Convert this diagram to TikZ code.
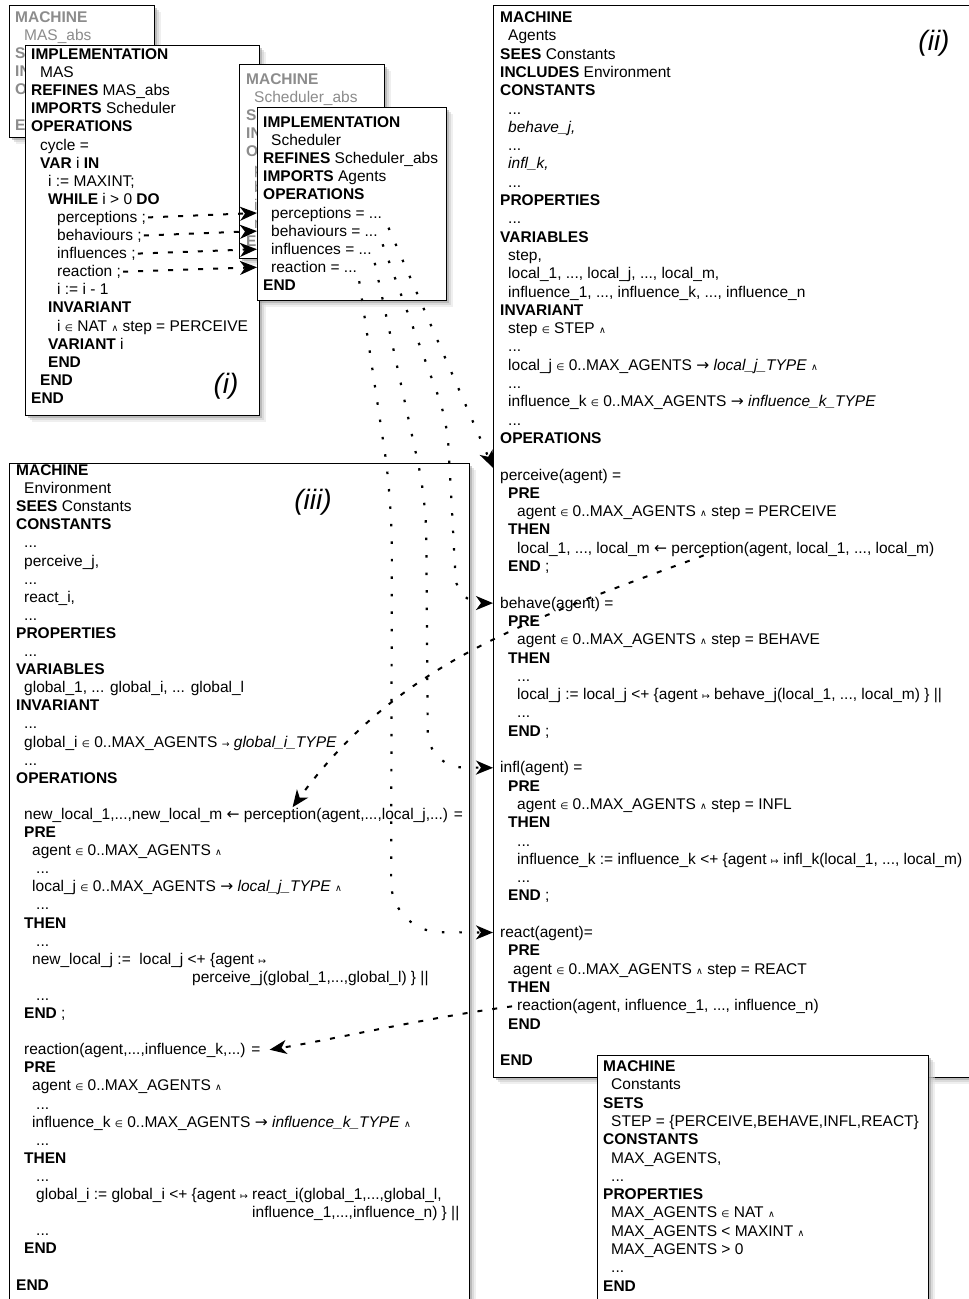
\documentclass[tikz,border=0pt]{standalone}
\usepackage{fontspec}
\setmainfont{Liberation Sans}
\newfontfamily\symfont{DejaVu Sans}[Scale=0.6]
\newfontfamily\arrowfont{DejaVu Sans}[Scale=1.0]
\usepackage{tikz}
\usetikzlibrary{arrows.meta, calc, shadows}
\newcommand{\bIn}{{\symfont ∈}}
\newcommand{\bAnd}{{\symfont ∧}}
\newcommand{\bMaps}{{\symfont ↦}}
\newcommand{\bTo}{{\arrowfont →}}
\newcommand{\bGets}{{\arrowfont ←}}
\tikzstyle{mbox} = [rectangle, draw=black, line width=1.2pt, fill=white, anchor=north west, inner sep=0pt,
    drop shadow={shadow xshift=6pt, shadow yshift=-6pt, fill=black!12, draw=none},
    drop shadow={shadow xshift=4pt, shadow yshift=-4pt, fill=black!22, draw=none},
    drop shadow={shadow xshift=2pt, shadow yshift=-2pt, fill=black!40, draw=none}]
\tikzstyle{code} = [anchor=base west, inner sep=0pt, text height=12pt, text depth=2pt, font=\fontsize{15.5}{18}\selectfont]
\tikzstyle{absline} = [code, text=black!45]
\tikzstyle{tag} = [font=\fontsize{28}{28}\selectfont\itshape]
\tikzstyle{calllink} = [line width=2pt, dash pattern=on 5pt off 10pt, -{Stealth[length=17pt, width=14pt, inset=5pt]}]
\tikzstyle{dotlink} = [line width=2.2pt, dash pattern=on 2.5pt off 15pt, -{Stealth[length=17pt, width=14pt, inset=5pt]}]

\begin{document}
\begin{tikzpicture}[x=1pt, y=-1pt]
    \useasboundingbox (0,0) rectangle (969,1299);

    % abstract machine of (i)
    \node (masabs) [mbox, minimum width=145pt, minimum height=132pt] at (9,5) {};
    \foreach \dx/\txt [count=\n from 0] in {0/\textbf{MACHINE}, 9/MAS\_abs, 0/\textbf{S}, 0/\textbf{IN}, 0/\textbf{O}, 0/{}, 0/\textbf{E}}
        \node (ma-\n) [absline] at (15+\dx, 22.5+18*\n) {\txt};

    % (i) implementation MAS
    \node (mas) [mbox, minimum width=234pt, minimum height=370pt] at (25,45) {};
    \foreach \dx/\txt [count=\n from 0] in {0/\textbf{IMPLEMENTATION}, 9/MAS, 0/{\textbf{REFINES} MAS\_abs}, 0/{\textbf{IMPORTS} Scheduler}, 0/\textbf{OPERATIONS}, 9/{cycle =}, 9/{\textbf{VAR} i \textbf{IN}}, 17/{i := MAXINT;}, 17/{\textbf{WHILE} i > 0 \textbf{DO}}, 26/{perceptions ;}, 26/{behaviours ;}, 26/{influences ;}, 26/{reaction ;}, 26/{i := i - 1}, 17/\textbf{INVARIANT}, 26/{i \bIn{} NAT \bAnd{} step = PERCEIVE}, 17/{\textbf{VARIANT} i}, 17/\textbf{END}, 9/\textbf{END}, 0/\textbf{END}}
        \node (mas-\n) [code] at (31+\dx, 59.5+18.1*\n) {\txt};

    % abstract scheduler
    \node (schabs) [mbox, minimum width=145pt, minimum height=194pt] at (239,64) {};
    \foreach \dx/\txt [count=\n from 0] in {0/\textbf{MACHINE}, 8/Scheduler\_abs, 0/\textbf{S}, 0/\textbf{IN}, 0/\textbf{O}, 8/p, 8/b, 8/i, 8/r, 0/\textbf{E}}
        \node (sa-\n) [absline] at (246+\dx, 84.5+18*\n) {\txt};

    % implementation Scheduler
    \node (sch) [mbox, minimum width=189pt, minimum height=193pt] at (257,107) {};
    \foreach \dx/\txt [count=\n from 0] in {0/\textbf{IMPLEMENTATION}, 8/Scheduler, 0/{\textbf{REFINES} Scheduler\_abs}, 0/{\textbf{IMPORTS} Agents}, 0/\textbf{OPERATIONS}, 8/{perceptions = ...}, 8/{behaviours = ...}, 8/{influences = ...}, 8/{reaction = ...}, 0/\textbf{END}}
        \node (sch-\n) [code] at (263+\dx, 127.5+18.1*\n) {\txt};

    % (ii) machine Agents
    \node (agents) [mbox, minimum width=492pt, minimum height=1072pt] at (493,5) {};
    \foreach \dx/\txt [count=\n from 0] in {0/\textbf{MACHINE}, 8/Agents, 0/{\textbf{SEES} Constants}, 0/{\textbf{INCLUDES} Environment}, 0/\textbf{CONSTANTS}, 8/{...}, 8/{\textit{behave\_j,}}, 8/{...}, 8/{\textit{infl\_k,}}, 8/{...}, 0/\textbf{PROPERTIES}, 8/{...}, 0/\textbf{VARIABLES}, 8/{step,}, 8/{local\_1, ..., local\_j, ..., local\_m,}, 8/{influence\_1, ..., influence\_k, ..., influence\_n}, 0/\textbf{INVARIANT}, 8/{step \bIn{} STEP \bAnd}, 8/{...}, 8/{local\_j \bIn{} 0..MAX\_AGENTS \bTo{} \textit{local\_j\_TYPE} \bAnd}, 8/{...}, 8/{influence\_k \bIn{} 0..MAX\_AGENTS \bTo{} \textit{influence\_k\_TYPE}}, 8/{...}, 0/\textbf{OPERATIONS}, 0/{}, 0/{perceive(agent) =}, 8/\textbf{PRE}, 17/{agent \bIn{} 0..MAX\_AGENTS \bAnd{} step = PERCEIVE}, 8/\textbf{THEN}, 17/{local\_1, ..., local\_m \bGets{} perception(agent, local\_1, ..., local\_m)}, 8/{\textbf{END} ;}, 0/{}, 0/{behave(agent) =}, 8/\textbf{PRE}, 17/{agent \bIn{} 0..MAX\_AGENTS \bAnd{} step = BEHAVE}, 8/\textbf{THEN}, 17/{...}, 17/{local\_j := local\_j <+ \{agent \bMaps{} behave\_j(local\_1, ..., local\_m) \} ||}, 17/{...}, 8/{\textbf{END} ;}, 0/{}, 0/{infl(agent) =}, 8/\textbf{PRE}, 17/{agent \bIn{} 0..MAX\_AGENTS \bAnd{} step = INFL}, 8/\textbf{THEN}, 17/{...}, 17/{influence\_k := influence\_k <+ \{agent \bMaps{} infl\_k(local\_1, ..., local\_m)}, 17/{...}, 8/{\textbf{END} ;}, 0/{}, 0/{react(agent)=}, 8/\textbf{PRE}, 13/{agent \bIn{} 0..MAX\_AGENTS \bAnd{} step = REACT}, 8/\textbf{THEN}, 17/{reaction(agent, influence\_1, ..., influence\_n)}, 8/\textbf{END}, 0/{}, 0/\textbf{END}}
        \node (ag-\n) [code] at (500+\dx, 22.5+18.3*\n) {\txt};

    % (iii) machine Environment
    \node (env) [mbox, minimum width=460pt, minimum height=850pt] at (9,463) {};
    \foreach \dx/\txt [count=\n from 0] in {0/\textbf{MACHINE}, 8/Environment, 0/{\textbf{SEES} Constants}, 0/\textbf{CONSTANTS}, 8/{...}, 8/{perceive\_j,}, 8/{...}, 8/{react\_i,}, 8/{...}, 0/\textbf{PROPERTIES}, 8/{...}, 0/\textbf{VARIABLES}, 8/{global\_1, ... global\_i, ... global\_l}, 0/\textbf{INVARIANT}, 8/{...}, 8/{global\_i \bIn{} 0..MAX\_AGENTS {\symfont →} \textit{global\_i\_TYPE}}, 8/{...}, 0/\textbf{OPERATIONS}, 0/{}, 8/{new\_local\_1,...,new\_local\_m \bGets{} perception(agent,...,local\_j,...) =}, 8/\textbf{PRE}, 16/{agent \bIn{} 0..MAX\_AGENTS \bAnd}, 20/{...}, 16/{local\_j \bIn{} 0..MAX\_AGENTS \bTo{} \textit{local\_j\_TYPE} \bAnd}, 20/{...}, 8/\textbf{THEN}, 20/{...}, 16/{new\_local\_j :=\ \ local\_j <+ \{agent \bMaps}, 176/{perceive\_j(global\_1,...,global\_l) \} ||}, 20/{...}, 8/{\textbf{END} ;}, 0/{}, 8/{reaction(agent,...,influence\_k,...) =}, 8/\textbf{PRE}, 16/{agent \bIn{} 0..MAX\_AGENTS \bAnd}, 20/{...}, 16/{influence\_k \bIn{} 0..MAX\_AGENTS \bTo{} \textit{influence\_k\_TYPE} \bAnd}, 20/{...}, 8/\textbf{THEN}, 20/{...}, 20/{global\_i := global\_i <+ \{agent \bMaps{} react\_i(global\_1,...,global\_l,}, 236/{influence\_1,...,influence\_n) \} ||}, 20/{...}, 8/\textbf{END}, 0/{}, 0/\textbf{END}}
        \node (env-\n) [code] at (16+\dx, 475.5+18.1*\n) {\txt};

    % machine Constants
    \node (cst) [mbox, minimum width=331pt, minimum height=260pt] at (597,1055) {};
    \foreach \dx/\txt [count=\n from 0] in {0/\textbf{MACHINE}, 8/Constants, 0/\textbf{SETS}, 8/{STEP = \{PERCEIVE,BEHAVE,INFL,REACT\}}, 0/\textbf{CONSTANTS}, 8/{MAX\_AGENTS,}, 8/{...}, 0/\textbf{PROPERTIES}, 8/{MAX\_AGENTS \bIn{} NAT \bAnd}, 8/{MAX\_AGENTS < MAXINT \bAnd}, 8/{MAX\_AGENTS > 0}, 8/{...}, 0/\textbf{END}}
        \node (cst-\n) [code] at (603+\dx, 1071.5+18.3*\n) {\txt};

    \node (tag-i) [tag] at (226,386) {(i)};
    \node (tag-ii) [tag] at (934,43) {(ii)};
    \node (tag-iii) [tag] at (313,502) {(iii)};

    % cycle calls the scheduler
    \foreach \a/\b in {9/5, 10/6, 11/7, 12/8}
        \draw [calllink] ([xshift=2pt]mas-\a.east) -- ([xshift=-14pt]sch-\b.west);
    % scheduler calls the agent operations
    \draw [dotlink, shorten <=16pt] (sch-5.east) -- ([xshift=-7pt]ag-25.north west);
    \draw [dotlink, rounded corners=25pt, shorten <=14pt] (sch-6.east) -- (447,420) -- (457,603) -- ([xshift=-7pt]ag-32.west);
    \draw [dotlink, rounded corners=35pt, shorten <=14pt] (sch-7.east) -- (426,500) -- (428,767) -- ([xshift=-7pt]ag-41.west);
    \draw [dotlink, rounded corners=50pt, shorten <=14pt] (sch-8.east) -- (392,500) -- (391,932) -- ([xshift=-7pt]ag-50.west);
    % agents use the environment
    \draw [calllink] ([xshift=-22pt]ag-29.south) .. controls (530,620) and (400,660) .. ([xshift=49pt]env-19.north);
    \draw [calllink, shorten <=5pt] (ag-54.west) .. controls (430,1017) and (330,1040) .. ([xshift=9pt]env-32.east);
\end{tikzpicture}
\end{document}
